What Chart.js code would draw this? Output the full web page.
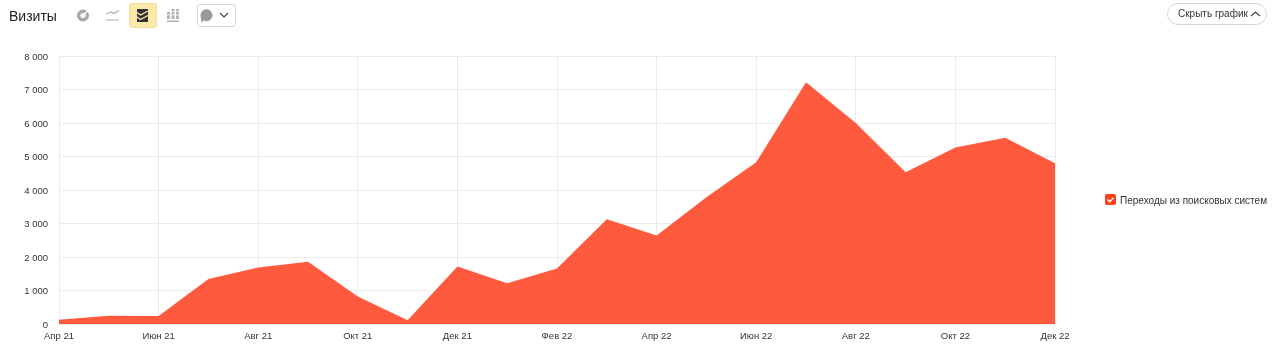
<!DOCTYPE html>
<html lang="ru">
<head>
<meta charset="utf-8">
<title>Визиты</title>
<script src="https://cdn.jsdelivr.net/npm/chart.js@4/dist/chart.umd.min.js"></script>
<style>
    html, body { margin: 0; padding: 0; background: #fff; overflow: hidden; }
    body { width: 1280px; height: 362px; position: relative; font-family: "Liberation Sans", Arial, sans-serif; color: #222; }
    #chart-box { position: absolute; left: 0; top: 0; width: 1280px; height: 362px; }
    #visits-chart { display: block; }
    .title { position: absolute; left: 9px; top: 7px; font-size: 14px; line-height: 18px; }
    .icon { position: absolute; top: 3px; width: 26px; height: 25px; box-sizing: border-box; }
    .icon svg { display: block; }
    .icon.active { background: #fdeaa8; border: 1px solid #eedc9e; border-radius: 3px; width: 28px; }
    .comment { position: absolute; left: 197px; top: 4px; width: 39px; height: 23px; box-sizing: border-box; border: 1px solid #d9d9d9; border-radius: 3px; }
    .hide-btn { position: absolute; left: 1167px; top: 3px; width: 100px; height: 22px; box-sizing: border-box; border: 1px solid #d6d6d6; border-radius: 11px; font-size: 10px; line-height: 20px; padding-left: 10px; color: #333; white-space: nowrap; }
    .hide-btn svg { position: absolute; left: 82px; top: 6px; }
    .legend { position: absolute; left: 1105px; top: 193px; font-size: 10px; line-height: 14px; white-space: nowrap; color: #333; }
    .legend .box { position: absolute; left: 0; top: 1px; width: 11px; height: 11px; background: #fc3f1d; border-radius: 2px; }
    .legend .box svg { display: block; }
    .legend span { margin-left: 15px; position: relative; top: 1px; }
</style>
</head>
<body>
<div id="chart-box"><canvas id="visits-chart" width="1280" height="362"></canvas></div>

<div class="title">Визиты</div>
<div class="icon" style="left:70px"><svg width="26" height="25"><circle cx="13" cy="12.500" r="4.300" fill="none" stroke="#a8a8a8" stroke-width="3.400"/><path d="M13 12.500L19 6.500" stroke="#fff" stroke-width="1.200"/></svg></div>
<div class="icon" style="left:100px"><svg width="26" height="25"><path d="M6 11l5-2 3 1.500 5-3M6 17h13" fill="none" stroke="#b0b0b0" stroke-width="1.200"/></svg></div>
<div class="icon active" style="left:129px"><svg width="26" height="23"><path d="M7 5h11v13H7z" fill="#333"/><path d="M7 8.500l3.500 2.500 7.500-4M7 13l3.500 2.500 7.500-4" fill="none" stroke="#fdeaa8" stroke-width="1.400"/></svg></div>
<div class="icon" style="left:160px"><svg width="26" height="25"><path d="M7 9h3v7H7zM11.500 6h3v10h-3zM16 6h3v10h-3zM7 17.500h12V19H7z" fill="#b4b4b4"/><path d="M7 12h12M11 8.500h8" stroke="#fff" stroke-width="0.800"/></svg></div>
<div class="comment"><svg width="37" height="21"><path d="M2.500 10.500a6 6 0 1 1 3 5l-2 2.500z" fill="#9a9a9a"/><path d="M22 8l4 4 4-4" fill="none" stroke="#444" stroke-width="1.200"/></svg></div>
<div class="hide-btn">Скрыть график<svg width="11" height="8"><path d="M1 6l4.500-4 4.500 4" fill="none" stroke="#444" stroke-width="1.200"/></svg></div>
<div class="legend"><div class="box"><svg width="11" height="11"><path d="M2.500 5.500l2.200 2.200 3.800-4" fill="none" stroke="#fff" stroke-width="1.500"/></svg></div><span>Переходы из поисковых систем</span></div>

<script>
const months = ['Апр 21', 'Май 21', 'Июн 21', 'Июл 21', 'Авг 21', 'Сен 21', 'Окт 21', 'Ноя 21', 'Дек 21',
    'Янв 22', 'Фев 22', 'Мар 22', 'Апр 22', 'Май 22', 'Июн 22', 'Июл 22', 'Авг 22', 'Сен 22', 'Окт 22', 'Ноя 22', 'Дек 22'];
const searchVisits = [130, 250, 240, 1340, 1690, 1860, 820, 110, 1720, 1220, 1660, 3130, 2640, 3780, 4830, 7220, 6000, 4530, 5270, 5560, 4800];
const seriesName = 'Переходы из поисковых систем';
const yTicks = [0, 1000, 2000, 3000, 4000, 5000, 6000, 7000, 8000];

const formatThousands = value => value === 0 ? '0' : `${Math.floor(value / 1000)} ${String(value % 1000).padStart(3, '0')}`;
const gridColor = '#ebebeb';
const tickFont = { family: '"Liberation Sans", Arial, sans-serif', size: 9.5 };

new Chart(document.getElementById('visits-chart').getContext('2d'), {
    type: 'line',
    data: {
        labels: months,
        datasets: [{
            label: seriesName,
            data: searchVisits,
            borderWidth: 0,
            pointRadius: 0,
            backgroundColor: 'rgba(255, 78, 46, 0.93)', // grid shows faintly through the area
            fill: 'origin',
            tension: 0
        }]
    },
    options: {
        responsive: false,
        animation: false,
        layout: { padding: { top: 56, right: 225, left: 0, bottom: 0 } },
        plugins: { legend: { display: false }, tooltip: { enabled: false } },
        scales: {
            x: {
                offset: false,
                afterFit: scale => { scale.height = 38; },
                grid: {
                    color: ctx => ctx.index % 2 === 0 ? gridColor : 'transparent',
                    drawTicks: false
                },
                border: { color: gridColor },
                ticks: {
                    autoSkip: false,
                    maxRotation: 0,
                    padding: 7,
                    color: '#333',
                    font: tickFont,
                    callback: function (value, index) { return index % 2 === 0 ? months[index] : ''; }
                }
            },
            y: {
                min: 0,
                max: 8000,
                afterFit: scale => { scale.width = 59; },
                afterBuildTicks: scale => { scale.ticks = yTicks.map(value => ({ value })); },
                grid: { color: gridColor, drawTicks: false },
                border: { color: gridColor },
                ticks: {
                    autoSkip: false,
                    padding: 11,
                    labelOffset: 1,
                    color: '#333',
                    font: tickFont,
                    callback: value => formatThousands(value)
                }
            }
        }
    }
});
</script>
</body>
</html>
